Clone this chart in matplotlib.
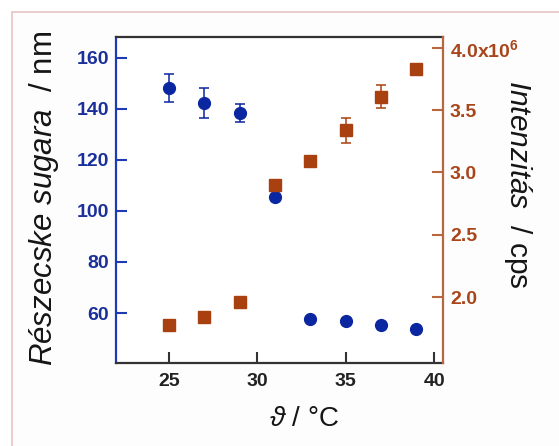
import matplotlib
matplotlib.use("Agg")
import matplotlib.pyplot as plt
from matplotlib.patches import Rectangle

plt.rcParams['font.family'] = ['Liberation Sans', 'DejaVu Sans']
plt.rcParams['mathtext.fontset'] = 'custom'
plt.rcParams['mathtext.rm'] = 'Liberation Sans'
plt.rcParams['mathtext.bf'] = 'Liberation Sans:bold'
plt.rcParams['mathtext.it'] = 'Liberation Sans:italic'

# Data
temp = [25, 27, 29, 31, 33, 35, 37, 39]
radius = [148.2, 142.4, 138.4, 105.5, 57.6, 56.9, 55.3, 53.7]
radius_err = [5.3, 5.9, 3.7, 0, 0, 0, 0, 0]
intensity = [1.775, 1.84, 1.96, 2.90, 3.096, 3.34, 3.61, 3.83]  # x1e6 cps
intensity_err = [0, 0, 0, 0.03, 0, 0.10, 0.09, 0.02]

left_ticks = [60, 80, 100, 120, 140, 160]
right_ticks = [2.0, 2.5, 3.0, 3.5, 4.0]
right_tick_labels = ['2.0', '2.5', '3.0', '3.5', r'4.0x10$^{\mathbf{6}}$']
x_ticks = [25, 30, 35, 40]

blue = '#0a26a0'
brown = '#a8400f'
brown_spine = '#b8663e'
blue_spine = '#1f3ab5'

fig = plt.figure(figsize=(5.59, 4.46), dpi=100)
fig.patch.set_facecolor('white')
frame = Rectangle((12/559, -0.1), 1.2, (446-12)/446 + 0.1,
                  transform=fig.transFigure, facecolor='#fefdfd',
                  edgecolor='#e6c3c3', linewidth=1.2, zorder=-10)
fig.add_artist(frame)

ax = fig.add_axes([116/559, (446-363)/446, (443-116)/559, (363-37)/446])
ax2 = ax.twinx()
ax.set_zorder(1)
ax2.set_zorder(2)
ax.patch.set_facecolor('white')
ax2.patch.set_visible(False)

ax.set_xlim(22, 40.5)
ax.set_ylim(40.4, 168.2)
ax2.set_ylim(1.47, 4.088)

ax.errorbar(temp, radius, yerr=radius_err, fmt='o', color=blue, ms=8.5,
            capsize=3.5, elinewidth=1.1, capthick=1.1, zorder=3)
ax2.errorbar(temp, intensity, yerr=intensity_err, fmt='s', color=brown, ms=8.5,
             capsize=3.5, elinewidth=1.1, capthick=1.1, zorder=3)

ax.set_xticks(x_ticks)
ax.set_yticks(left_ticks)
ax2.set_yticks(right_ticks)
ax2.set_yticklabels(right_tick_labels)

for sp in ['top', 'bottom']:
    ax.spines[sp].set_color('#333333')
    ax.spines[sp].set_linewidth(1.6)
    ax2.spines[sp].set_visible(False)
ax.spines['left'].set_color(blue_spine)
ax.spines['left'].set_linewidth(1.6)
ax.spines['right'].set_visible(False)
ax2.spines['left'].set_visible(False)
ax2.spines['right'].set_color(brown_spine)
ax2.spines['right'].set_linewidth(1.6)

ax.tick_params(axis='x', direction='in', length=8, width=1.5, color='#333333',
               labelsize=14, pad=7, labelcolor='#222222')
ax.tick_params(axis='y', direction='in', length=8, width=1.5, color=blue_spine,
               labelsize=14, pad=5, labelcolor='#1a2f9a')
ax2.tick_params(axis='y', direction='in', length=8, width=1.5, color=brown_spine,
                labelsize=14, pad=5, labelcolor='#a8451a')
for lab in ax.get_xticklabels() + ax.get_yticklabels() + ax2.get_yticklabels():
    lab.set_fontweight('bold')

fig.text(44/559, 1 - 198/446, r'$\mathit{Részecske\ sugara}$  / nm', rotation=90,
         ha='center', va='center', fontsize=22.5, color='#151515')
fig.text(518/559, 1 - 184/446, r'$\mathit{Intenzitás}$  / cps', rotation=-90,
         ha='center', va='center', fontsize=21.5, color='#151515')
fig.text(304/559, 1 - 419/446, r'$\mathit{\vartheta}$ / °C',
         ha='center', va='center', fontsize=20, color='#151515')

fig.savefig('out.png', dpi=100)
